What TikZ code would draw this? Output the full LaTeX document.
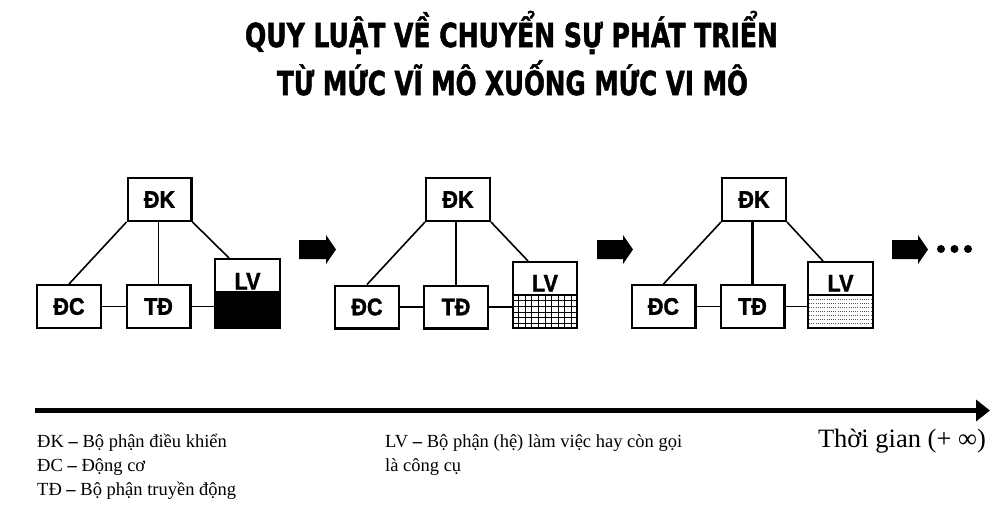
\documentclass[tikz,border=0pt]{standalone}
\usepackage{fontspec}
\usepackage{graphicx}
\setmainfont{Liberation Serif}
\newfontfamily\lblfont{Liberation Sans}[FakeStretch=0.9, BoldFeatures={FakeBold=1.6}]
\newfontfamily\ttlfont{DejaVu Sans}[BoldFeatures={FakeBold=1.8}]
\usetikzlibrary{arrows.meta,calc}
\tikzset{
  box/.style={draw, line width=2.4pt, minimum width=63.6pt, minimum height=42.6pt, inner sep=0pt,
    font=\lblfont\bfseries\fontsize{24}{26}\selectfont},
  lvbox/.style={draw, line width=2.4pt, inner sep=0pt},
  lvtext/.style={inner sep=0pt, anchor=base, font=\lblfont\bfseries\fontsize{24}{26}\selectfont},
  link/.style={line width=1.6pt},
  thicklink/.style={line width=2.5pt},
  divider/.style={line width=1.8pt},
  gridline/.style={line width=0.8pt},
  dotline/.style={line width=0.9pt, black!65, dash pattern=on 0.9pt off 1.3pt},
  blockarrow/.style={fill=black},
  legend/.style={inner sep=0pt, anchor=base west, font=\fontsize{18.5}{22}\selectfont},
  titletext/.style={inner sep=0pt, anchor=base}
}
\newcommand{\bdash}{\textbf{–}}
\begin{document}
\begin{tikzpicture}[x=1pt,y=-1pt]
\useasboundingbox (0,0) rectangle (1004,509);

% ---------- title ----------
\node[titletext] (t1) at (511.5,47) {\resizebox{533pt}{\height}{\ttlfont\bfseries\fontsize{33}{36}\selectfont QUY LUẬT VỀ CHUYỂN SỰ PHÁT TRIỂN}};
\node[titletext] (t2) at (512.5,95) {\resizebox{471pt}{\height}{\ttlfont\bfseries\fontsize{33}{36}\selectfont TỪ MỨC VĨ MÔ XUỐNG MỨC VI MÔ}};

% ---------- diagram 1 ----------
\fill (214,292) rectangle (281,329);
\node[box] (dk1) at (159.5,199.5) {ĐK};
\node[box] (dc1) at (69,306.5) {ĐC};
\node[box] (td1) at (158.5,306.5) {TĐ};
\node[lvbox, minimum width=64.6pt, minimum height=68.6pt] (lv1) at (247.5,293.5) {};
\draw[divider] (lv1.west |- 0,292) -- (lv1.east |- 0,292);
\node[lvtext] (lvt1) at (247.5,289.5) {LV};
\draw[link] (dk1.south west) -- (dc1.north);
\draw[link] (td1.north |- dk1.south) -- (td1.north);
\draw[link] (dk1.south east) -- ($(lv1.north west)+(15,0)$);
\draw[link] (dc1.east) -- (td1.west);
\draw[link] (td1.east) -- (td1.east -| lv1.west);

% ---------- diagram 2 ----------
\foreach \i in {1,...,9} \draw[gridline] ({512+\i*6.6},295) -- ({512+\i*6.6},329);
\foreach \j in {1,...,5} \draw[gridline] (512,{295+\j*5.67}) -- (578,{295+\j*5.67});
\node[box] (dk2) at (458,199.5) {ĐK};
\node[box] (dc2) at (367,307) {ĐC};
\node[box] (td2) at (456,307) {TĐ};
\node[lvbox, minimum width=63.6pt, minimum height=65.6pt] (lv2) at (545,295) {};
\draw[divider] (lv2.west |- 0,295) -- (lv2.east |- 0,295);
\node[lvtext] (lvt2) at (545,291.5) {LV};
\draw[link] (dk2.south west) -- (dc2.north);
\draw[thicklink] (td2.north |- dk2.south) -- (td2.north);
\draw[link] (dk2.south east) -- ($(lv2.north west)+(16,0)$);
\draw[link] (dc2.east) -- (td2.west);
\draw[link] (td2.east) -- (td2.east -| lv2.west);

% ---------- diagram 3 ----------
\foreach \j in {0,...,7} \draw[dotline] (809,{299+\j*4}) -- (872,{299+\j*4});
\node[box] (dk3) at (754,199.5) {ĐK};
\node[box] (dc3) at (663.5,306.5) {ĐC};
\node[box] (td3) at (752.5,306.5) {TĐ};
\node[lvbox, minimum width=64.6pt, minimum height=65.6pt] (lv3) at (840.5,295) {};
\draw[divider] (lv3.west |- 0,295) -- (lv3.east |- 0,295);
\node[lvtext] (lvt3) at (840.5,291.5) {LV};
\draw[link] (dk3.south west) -- (dc3.north);
\draw[thicklink] (td3.north |- dk3.south) -- (td3.north);
\draw[link] (dk3.south east) -- ($(lv3.north west)+(16,0)$);
\draw[link] (dc3.east) -- (td3.west);
\draw[link] (td3.east) -- (td3.east -| lv3.west);

% ---------- block arrows ----------
\fill[blockarrow] (299,240) -- (326,240) -- (326,235) -- (336,249.5) -- (326,264) -- (326,259) -- (299,259) -- cycle;
\fill[blockarrow] (597,240) -- (623,240) -- (623,235) -- (633,249.5) -- (623,264) -- (623,259) -- (597,259) -- cycle;
\fill[blockarrow] (892,240) -- (918,240) -- (918,235) -- (928,249.5) -- (918,264) -- (918,259) -- (892,259) -- cycle;
\fill (941,249) circle[radius=4pt];
\fill (954.5,249) circle[radius=4pt];
\fill (968,249) circle[radius=4pt];

% ---------- time axis ----------
\coordinate (ax0) at (35,410.5);
\coordinate (ax1) at (990,410.5);
\draw[line width=5pt, -{Triangle[length=14pt,width=21pt]}] (ax0) -- (ax1);

% ---------- legend ----------
\node[legend] (lg1) at (37,447) {ĐK \bdash{} Bộ phận điều khiển};
\node[legend] (lg2) at (37,471) {ĐC \bdash{} Động cơ};
\node[legend] (lg3) at (37,495) {TĐ \bdash{} Bộ phận truyền động};
\node[legend] (lg4) at (385,447) {LV \bdash{} Bộ phận (hệ) làm việc hay còn gọi};
\node[legend] (lg5) at (385,471) {là công cụ};
\node[inner sep=0pt, anchor=base east, font=\fontsize{26.5}{30}\selectfont] (tg) at (986,447) {Thời gian (+ ∞)};
\end{tikzpicture}
\end{document}
